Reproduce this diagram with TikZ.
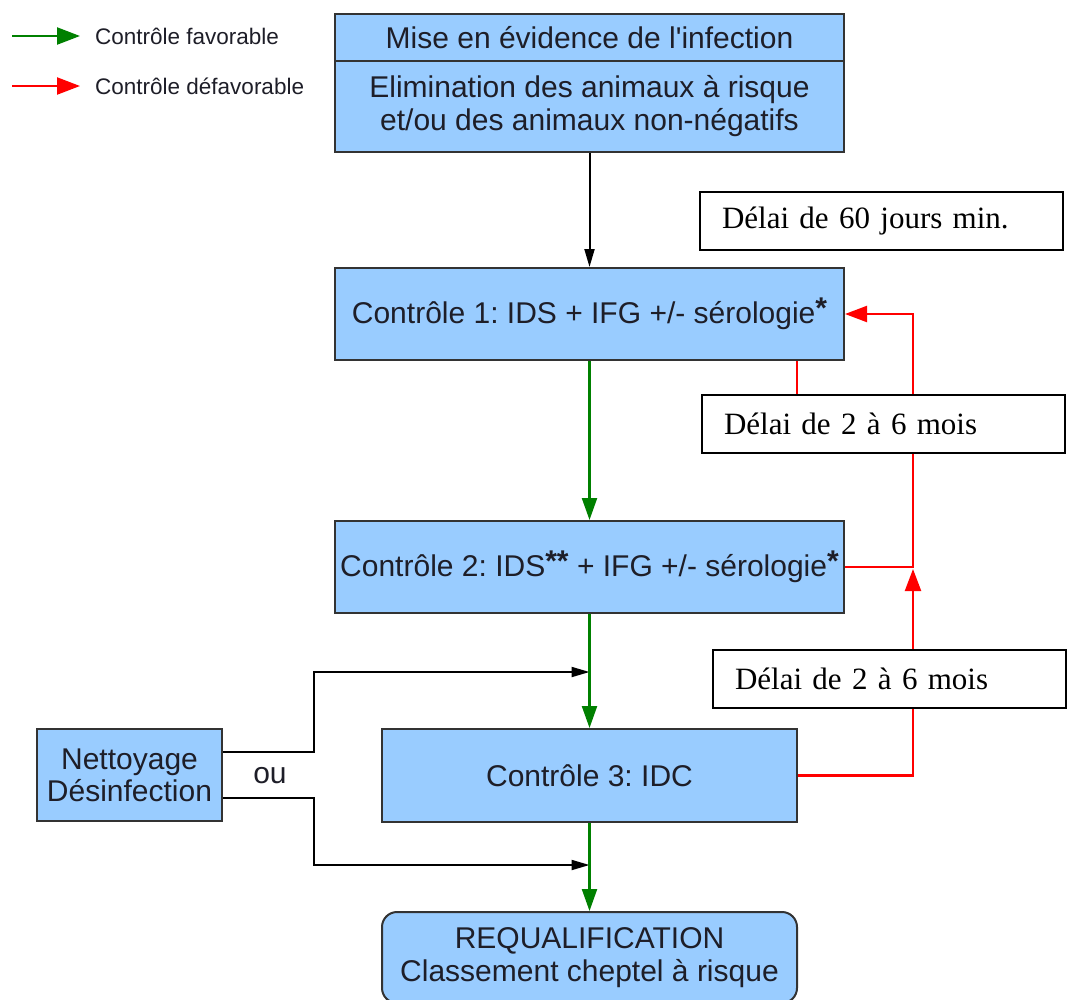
\documentclass[tikz,border=0pt]{standalone}
\usepackage{fontspec}
\setmainfont{Liberation Sans}
\newfontfamily\tnr{Liberation Serif}
\usetikzlibrary{arrows.meta}
\definecolor{boxblue}{HTML}{99CCFF}
\definecolor{okgreen}{HTML}{008000}
\definecolor{bad}{HTML}{FF0000}
\definecolor{txt}{HTML}{1E1E28}
\newcommand{\supast}{\raisebox{5pt}{\bfseries *}}
\begin{document}
\frenchspacing
\begin{tikzpicture}[x=1pt,y=-1pt,
  bluebox/.style={draw=black!80, line width=2pt, fill=boxblue, text=txt,
    font=\fontsize{30}{33}\selectfont, align=center, inner sep=0pt},
  delaybox/.style={draw=black, line width=2.4pt, fill=white,
    font=\tnr\fontsize{31}{36}\selectfont, align=left, inner xsep=22pt,
    inner ysep=0pt, minimum height=58pt},
  okarrow/.style={draw=okgreen, line width=2.2pt, -{Triangle[length=22pt,width=15pt]}},
  badline/.style={draw=bad, line width=2.2pt},
  badarrow/.style={badline, -{Triangle[length=22pt,width=16pt]}},
  blackarrow/.style={draw=black, line width=2pt, -{Triangle[length=18pt,width=10pt]}},
  legendtext/.style={anchor=west, inner sep=0pt, text=txt, font=\fontsize{22.5}{25}\selectfont}
  ]
\clip (0,0) rectangle (1067,999);
\fill[white] (0,0) rectangle (1067,999);

% legend
\node[legendtext] (lt1) at (95,36) {Contrôle favorable};
\node[legendtext] (lt2) at (95,86) {Contrôle défavorable};
\coordinate (lg1) at (12,36);
\coordinate (lg2) at (12,86);
\draw[draw=okgreen, line width=2.2pt, -{Triangle[length=23pt,width=17pt]}, shorten >=15pt] (lg1) -- (lt1.west);
\draw[draw=bad, line width=2.2pt, -{Triangle[length=23pt,width=17pt]}, shorten >=15pt] (lg2) -- (lt2.west);

% main boxes
\node[bluebox, minimum width=509pt, minimum height=47pt] (top1) at (589.5,37.5) {Mise en évidence de l\textquotesingle infection};
\node[bluebox, minimum width=509pt, minimum height=91pt] (top2) at (589.5,106.5) {Elimination des animaux à risque\\et/ou des animaux non-négatifs};
\node[bluebox, minimum width=509pt, minimum height=92pt] (c1) at (589.5,314) {Contrôle 1: IDS + IFG +/- sérologie\supast};
\node[bluebox, minimum width=509pt, minimum height=92pt] (c2) at (589.5,567) {Contrôle 2: IDS\supast\supast{} + IFG +/- sérologie\supast};
\node[bluebox, minimum width=415pt, minimum height=93pt] (c3) at (589.5,775.5) {Contrôle 3: IDC};
\node[bluebox, minimum width=415pt, minimum height=91pt, rounded corners=15pt] (req) at (589.5,957.5) {REQUALIFICATION\\Classement cheptel à risque};
\node[bluebox, minimum width=185pt, minimum height=92pt, font=\fontsize{30}{32}\selectfont] (net) at (129.5,775) {Nettoyage\\Désinfection};
\node[text=txt, font=\fontsize{30}{32}\selectfont, inner sep=0pt] (ou) at (270,776) {ou};

% black connectors
\draw[blackarrow] (top2.south) -- (c1.north);
\coordinate (j1) at (589.5,672);
\coordinate (j2) at (589.5,865);
\coordinate (k) at (314,0);
\draw[blackarrow] ([yshift=23pt]net.east) -| (k |- j1) -- (j1);
\draw[blackarrow] ([yshift=-23pt]net.east) -| (k |- j2) -- (j2);

% green connectors
\draw[okarrow] (c1.south) -- (c2.north);
\draw[okarrow] (c2.south) -- (c3.north);
\draw[okarrow] (c3.south) -- (req.north);

% red connectors
\coordinate (rv) at (913,0);
\coordinate (st) at (797,0);
\draw[badarrow] (c2.east) -- (rv |- c2.east) -- (rv |- c1.east) -- (c1.east);
\draw[badarrow] (c3.east) -- (rv |- c3.east) -- ([yshift=-2pt]rv |- c2.east);

% delay boxes
\node[delaybox, text width=319pt] (d60) at (881.5,221) {Délai de 60 jours min.};
\node[delaybox, text width=319pt] (dup) at (883.5,424) {Délai de 2 à 6 mois};
\node[delaybox, text width=309pt] (dlo) at (889.5,679) {Délai de 2 à 6 mois};
\draw[badline] (c1.south -| st) -- (dup.north -| st);
\end{tikzpicture}
\end{document}
